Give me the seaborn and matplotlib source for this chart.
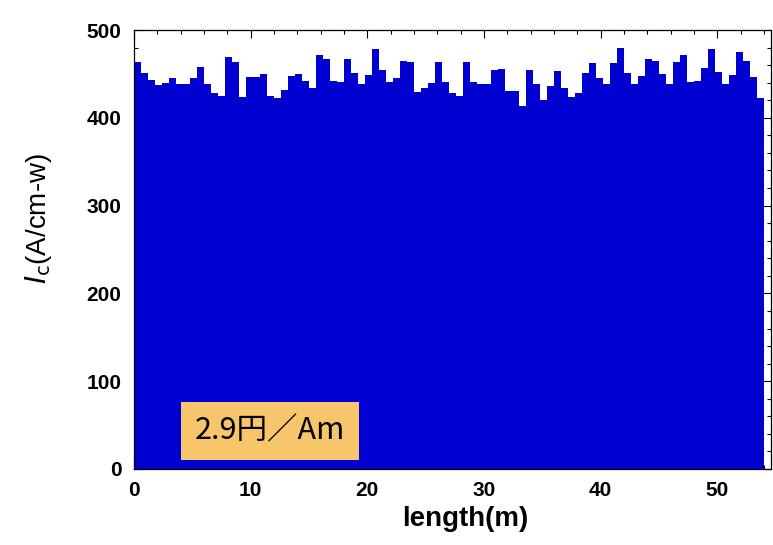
import numpy as np
import pandas as pd
import matplotlib
matplotlib.use("Agg")
import matplotlib.pyplot as plt
from matplotlib.ticker import MultipleLocator
import seaborn as sns

# critical current along the tape, one value per 0.6 m segment (0-54 m)
seg_len = 0.6
ic = [463, 451, 443, 437, 440, 445, 438, 439, 445, 458,
      439, 428, 425, 469, 463, 424, 447, 447, 450, 425,
      423, 432, 448, 450, 442, 434, 471, 467, 442, 441,
      467, 451, 438, 449, 478, 454, 441, 445, 465, 463,
      429, 434, 440, 464, 441, 428, 425, 464, 441, 438,
      438, 455, 456, 431, 430, 413, 455, 438, 420, 436,
      453, 434, 424, 428, 451, 462, 445, 438, 462, 479,
      451, 439, 448, 467, 465, 450, 438, 464, 472, 441,
      442, 457, 478, 452, 439, 449, 475, 465, 446, 423]
label = "2.9円／Am"

pos = np.arange(len(ic)) * seg_len + seg_len / 2
df = pd.DataFrame({"length": pos, "ic": ic})

sns.set_style("ticks")
plt.rcParams["font.family"] = ["Liberation Sans", "DejaVu Sans"]
plt.rcParams["text.color"] = "black"
plt.rcParams["axes.labelcolor"] = "black"
plt.rcParams["xtick.color"] = "black"
plt.rcParams["ytick.color"] = "black"

fig = plt.figure(figsize=(7.73, 5.45), dpi=100)
ax = fig.add_axes([134 / 773, 76 / 545, 637 / 773, 439 / 545])

sns.histplot(data=df, x="length", weights="ic", bins=len(ic),
             binrange=(0, len(ic) * seg_len), color="#0000d0",
             alpha=1, linewidth=0, ax=ax)

ax.set_xlim(0, 54.6)
ax.set_ylim(0, 500)
ax.xaxis.set_major_locator(MultipleLocator(10))
ax.xaxis.set_minor_locator(MultipleLocator(2))
ax.yaxis.set_major_locator(MultipleLocator(100))
ax.yaxis.set_minor_locator(MultipleLocator(20))
ax.tick_params(which="both", direction="in", top=True, right=True,
               color="black", width=0.8)
ax.tick_params(which="major", length=6, pad=9, labelsize=15)
ax.tick_params(which="minor", length=3)
for t in ax.get_xticklabels() + ax.get_yticklabels():
    t.set_fontweight("bold")
for s in ax.spines.values():
    s.set_linewidth(0.9)
    s.set_color("black")

ax.set_xlabel("length(m)", fontsize=20, fontweight="bold")
ax.xaxis.set_label_coords(0.52, -0.085)
ax.set_ylabel(r"$\mathit{I}_{\mathrm{c}}$(A/cm-w)", fontsize=20)
ax.yaxis.set_label_coords(-0.125, 0.57)

ax.text(11.65, 43, label, fontsize=22, ha="center", va="center",
        family=["Noto Sans CJK JP", "DejaVu Sans"],
        bbox=dict(boxstyle="square,pad=0.45", facecolor="#f8c66a",
                  edgecolor="none"))

fig.savefig("out.png", dpi=100)
